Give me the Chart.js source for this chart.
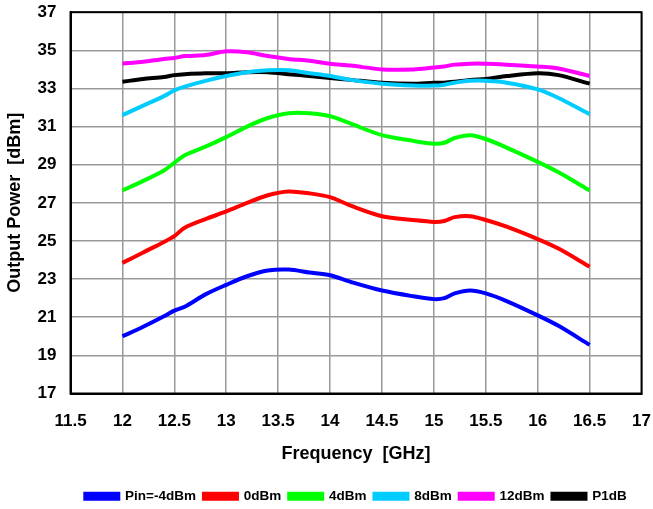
<!DOCTYPE html>
<html lang="en">
<head>
  <meta charset="UTF-8">
  <title>Output Power vs Frequency</title>
  <script src="https://cdn.jsdelivr.net/npm/chart.js"></script>
  <style>
    body { margin: 0; background: #fff; }
  </style>
</head>
<body>
  <canvas id="powerChart" width="653" height="509"></canvas>

  <script>
    // measured frequencies (GHz)
    const freqs = [12.0, 12.2, 12.4, 12.5, 12.6, 12.8, 13.0, 13.2, 13.4, 13.6, 13.8, 14.0,
                   14.2, 14.5, 14.8, 15.0, 15.1, 15.2, 15.35, 15.5, 15.7, 16.0, 16.2, 16.5];

    // output power (dBm) for each input level
    const pinM4 = [20.0, 20.5, 21.05, 21.35, 21.55, 22.2, 22.7, 23.15, 23.45, 23.5, 23.35, 23.2,
                   22.85, 22.4, 22.1, 21.95, 22.0, 22.25, 22.4, 22.25, 21.85, 21.1, 20.55, 19.55];
    const pin0 = [23.85, 24.4, 24.95, 25.25, 25.7, 26.15, 26.55, 27.0, 27.4, 27.6, 27.5, 27.3,
                  26.85, 26.3, 26.1, 26.0, 26.05, 26.25, 26.3, 26.1, 25.75, 25.1, 24.6, 23.65];
    const pin4 = [27.65, 28.15, 28.7, 29.1, 29.5, 29.95, 30.45, 31.0, 31.45, 31.7, 31.7, 31.55,
                  31.15, 30.55, 30.25, 30.1, 30.15, 30.4, 30.55, 30.35, 29.9, 29.15, 28.6, 27.65];
    const pin8 = [31.6, 32.1, 32.6, 32.9, 33.1, 33.4, 33.65, 33.85, 33.95, 33.95, 33.8, 33.65,
                  33.45, 33.25, 33.15, 33.15, 33.2, 33.3, 33.4, 33.4, 33.3, 32.95, 32.5, 31.65];
    const pin12 = [34.3, 34.4, 34.55, 34.6, 34.7, 34.75, 34.95, 34.9, 34.7, 34.55, 34.45, 34.3,
                   34.2, 34.0, 34.0, 34.1, 34.15, 34.25, 34.3, 34.3, 34.25, 34.15, 34.05, 33.65];
    const p1dB = [33.35, 33.5, 33.6, 33.7, 33.75, 33.8, 33.8, 33.85, 33.85, 33.75, 33.65, 33.55,
                  33.45, 33.3, 33.25, 33.3, 33.3, 33.35, 33.45, 33.5, 33.65, 33.8, 33.7, 33.25];

    const seriesNames = ['Pin=-4dBm', '0dBm', '4dBm', '8dBm', '12dBm', 'P1dB'];
    const seriesValues = [pinM4, pin0, pin4, pin8, pin12, p1dB];
    const seriesColors = ['#0000ff', '#ff0000', '#00ff00', '#00ccff', '#ff00ff', '#000000'];

    const datasets = seriesNames.map((name, i) => ({
      label: name,
      data: freqs.map((f, j) => ({ x: f, y: seriesValues[i][j] })),
      borderColor: seriesColors[i],
      backgroundColor: seriesColors[i],
      borderWidth: 4,
      pointRadius: 0,
      tension: 0.3,
      fill: false
    }));

    // black frame around the plot area
    const frame = {
      id: 'frame',
      afterDraw(chart) {
        const { ctx, chartArea: a } = chart;
        ctx.save();
        ctx.strokeStyle = '#000';
        ctx.lineWidth = 2;
        ctx.strokeRect(a.left, a.top, a.right - a.left, a.bottom - a.top);
        ctx.restore();
      }
    };

    const family = 'Liberation Sans, Arial';
    const tickFont = { family: family, weight: 'bold', size: 17 };
    const titleFont = { family: family, weight: 'bold', size: 18 };

    new Chart(document.getElementById('powerChart'), {
      type: 'line',
      data: { datasets: datasets },
      options: {
        responsive: false,
        animation: false,
        layout: { padding: { top: 0, right: 0, left: 4, bottom: -4 } },
        plugins: {
          legend: {
            position: 'bottom',
            fullSize: false,
            labels: {
              boxWidth: 33,
              boxHeight: 5,
              padding: 8,
              color: '#000',
              font: { family: family, weight: 'bold', size: 13.5 }
            }
          },
          tooltip: { enabled: false }
        },
        scales: {
          x: {
            type: 'linear',
            min: 11.5,
            max: 17,
            ticks: {
              stepSize: 0.5,
              color: '#000',
              font: tickFont,
              padding: 2,
              callback: v => String(v)
            },
            // invisible tick marks keep the labels off the axis
            grid: { color: '#999', lineWidth: 1.5, tickColor: 'rgba(0,0,0,0)', tickLength: 16 },
            border: { color: '#000', width: 2 },
            title: {
              display: true,
              text: 'Frequency  [GHz]',
              color: '#000',
              font: titleFont,
              padding: { top: 9, bottom: 17 }
            }
          },
          y: {
            min: 17,
            max: 37,
            ticks: { stepSize: 2, color: '#000', font: tickFont, padding: 2 },
            grid: { color: '#999', lineWidth: 1.5, tickColor: 'rgba(0,0,0,0)', tickLength: 12 },
            border: { color: '#000', width: 2 },
            title: {
              display: true,
              text: 'Output Power  [dBm]',
              color: '#000',
              font: titleFont,
              padding: { top: 0, bottom: 10 }
            }
          }
        }
      },
      plugins: [frame]
    });
  </script>
</body>
</html>
